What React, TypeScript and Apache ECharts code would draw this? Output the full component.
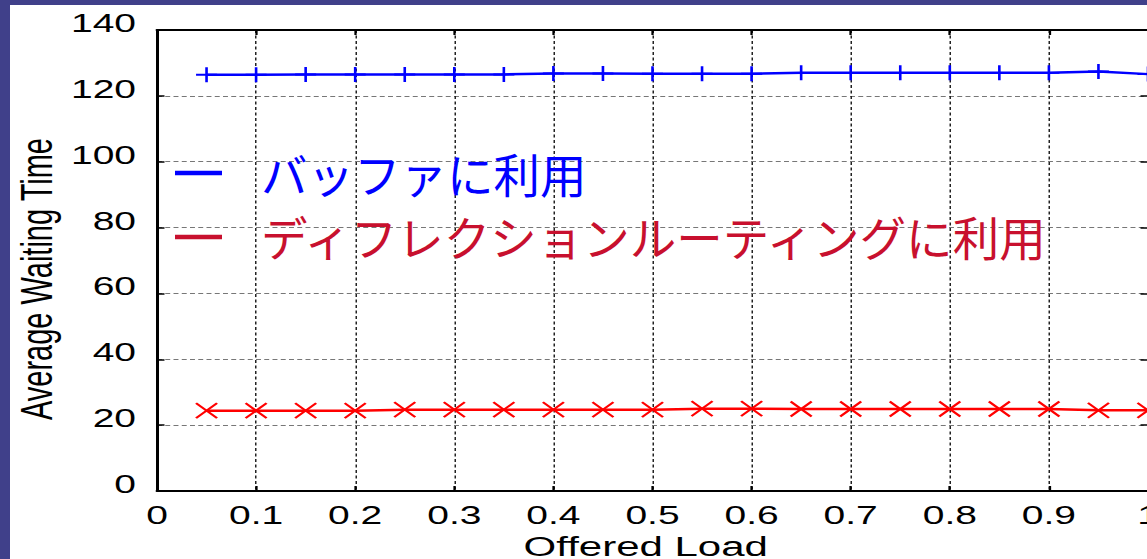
import React, { useEffect, useRef } from "react";
import * as echarts from "echarts";

// The plot is drawn in a narrower box and widened with a CSS horizontal stretch,
// so marks and axis text get the wide, MATLAB-export look; overlay captions undo it.
const STRETCH = 1.5;
const PAGE_H = 559;
const BOX_W = 766;

const offeredLoad = [0.05, 0.1, 0.15, 0.2, 0.25, 0.3, 0.35, 0.4, 0.45, 0.5, 0.55, 0.6, 0.65, 0.7, 0.75, 0.8, 0.85, 0.9, 0.95, 1.0];
const bufferWait = [126.4, 126.4, 126.5, 126.5, 126.5, 126.5, 126.5, 126.8, 126.8, 126.7, 126.7, 126.7, 127.0, 127.0, 127.0, 127.0, 127.0, 127.0, 127.4, 126.6];
const deflectionWait = [24.4, 24.4, 24.4, 24.4, 24.7, 24.7, 24.7, 24.7, 24.7, 24.7, 25.0, 25.0, 24.9, 24.9, 24.9, 24.9, 24.9, 24.9, 24.5, 24.5];

const xRange = { min: 0, max: 1, step: 0.1 };
const yRange = { min: 0, max: 140, step: 20 };

const xTitle = "Offered Load";
const yTitle = "Average Waiting Time";

const captions = [
  { label: "バッファに利用", color: "#0000ff", textY: 173, dashY: 173 },
  { label: "ディフレクションルーティングに利用", color: "#c8102e", textY: 236, dashY: 237 },
];

const FRAME = "#40408a";
const LATIN = "'Liberation Sans', Arial, Helvetica, sans-serif";
const CJK = "'Noto Sans CJK JP', 'Noto Sans CJK SC', sans-serif";

// convert a page x position to the un-stretched drawing box
const bx = (px: number) => px / STRETCH;

const PLUS = "path://M5,0L5,10M0,5L10,5";
const CROSS = "path://M0,0L10,10M10,0L0,10";

export default function App() {
  const ref = useRef<HTMLDivElement>(null);

  useEffect(() => {
    document.body.style.margin = "0";
    if (!ref.current) return;
    const chart = echarts.init(ref.current, undefined, { renderer: "svg" });

    const plotLeft = bx(157);
    const plotRight = bx(1148);
    const plotTop = 30;
    const plotBottom = 491;

    const frameAxis = {
      axisLine: { show: true, onZero: false, lineStyle: { color: "#000", width: 2 } },
      axisTick: { show: true, inside: true, length: 5, lineStyle: { color: "#000", width: 1.5 } },
      axisLabel: { show: false },
      splitLine: { show: false },
    };

    const graphics: any[] = [
      { type: "rect", shape: { x: 0, y: 0, width: bx(10), height: PAGE_H }, style: { fill: FRAME } },
      { type: "rect", shape: { x: 0, y: 0, width: BOX_W, height: 5 }, style: { fill: FRAME } },
      {
        type: "text",
        x: bx(37),
        y: 279,
        rotation: Math.PI / 2,
        style: {
          text: yTitle,
          fill: "#000",
          font: `29px ${LATIN}`,
          textAlign: "center",
          textVerticalAlign: "middle",
          align: "center",
          verticalAlign: "middle",
        },
      },
    ];
    captions.forEach((c) => {
      graphics.push({
        type: "rect",
        shape: { x: bx(175), y: c.dashY - 2.25, width: bx(47), height: 4.5 },
        style: { fill: c.color },
        z: 10,
      });
      graphics.push({
        type: "text",
        x: bx(261),
        y: c.textY,
        scaleX: 1 / STRETCH,
        z: 10,
        style: {
          text: c.label,
          fill: c.color,
          font: `46.5px ${CJK}`,
          textAlign: "left",
          textVerticalAlign: "middle",
          align: "left",
          verticalAlign: "middle",
        },
      });
    });

    chart.setOption({
      animation: false,
      backgroundColor: "#ffffff",
      grid: {
        left: plotLeft,
        right: BOX_W - plotRight,
        top: plotTop,
        bottom: PAGE_H - plotBottom,
        containLabel: false,
        outerBoundsMode: "none",
      },
      xAxis: [
        {
          type: "value",
          min: xRange.min,
          max: xRange.max,
          interval: xRange.step,
          position: "bottom",
          name: xTitle,
          nameLocation: "middle",
          nameGap: 35,
          nameTextStyle: { fontSize: 28, fontFamily: LATIN, color: "#000", padding: [0, 9, 0, 0] },
          axisLine: { show: true, onZero: false, lineStyle: { color: "#000", width: 2 } },
          axisTick: { show: true, inside: true, length: 5, lineStyle: { color: "#000", width: 1.5 } },
          axisLabel: { fontSize: 26, fontFamily: LATIN, color: "#000", margin: 11, hideOverlap: false },
          splitLine: { show: true, lineStyle: { color: "#222", width: 1, type: [3, 2.5] } },
        },
        { type: "value", min: xRange.min, max: xRange.max, interval: xRange.step, position: "top", ...frameAxis },
      ],
      yAxis: [
        {
          type: "value",
          min: yRange.min,
          max: yRange.max,
          interval: yRange.step,
          position: "left",
          axisLine: { show: true, onZero: false, lineStyle: { color: "#000", width: 2 } },
          axisTick: { show: true, inside: true, length: 5, lineStyle: { color: "#000", width: 1.5 } },
          axisLabel: {
            fontSize: 26,
            fontFamily: LATIN,
            color: "#000",
            margin: 14,
            verticalAlign: "bottom",
            lineHeight: 14,
          },
          splitLine: { show: true, lineStyle: { color: "#777", width: 1, type: [3.3, 2.2] } },
        },
        { type: "value", min: yRange.min, max: yRange.max, interval: yRange.step, position: "right", ...frameAxis },
      ],
      series: [
        {
          name: captions[0].label,
          type: "line",
          xAxisIndex: 0,
          yAxisIndex: 0,
          data: offeredLoad.map((x, i) => [x, bufferWait[i]]),
          symbol: PLUS,
          symbolSize: [14, 15],
          showAllSymbol: true,
          clip: false,
          lineStyle: { color: "#0000ff", width: 2.5 },
          itemStyle: { color: "#0000ff", borderColor: "#0000ff", borderWidth: 1.8 },
          z: 5,
        },
        {
          name: captions[1].label,
          type: "line",
          xAxisIndex: 0,
          yAxisIndex: 0,
          data: offeredLoad.map((x, i) => [x, deflectionWait[i]]),
          symbol: CROSS,
          symbolSize: [14, 15],
          showAllSymbol: true,
          clip: false,
          lineStyle: { color: "#ff0000", width: 2.5 },
          itemStyle: { color: "#ff0000", borderColor: "#ff0000", borderWidth: 1.8 },
          z: 5,
        },
      ],
      graphic: graphics,
    });

    return () => chart.dispose();
  }, []);

  return (
    <div
      ref={ref}
      style={{
        position: "fixed",
        left: 0,
        top: 0,
        width: BOX_W,
        height: PAGE_H,
        transform: `scaleX(${STRETCH})`,
        transformOrigin: "0 0",
      }}
    />
  );
}
